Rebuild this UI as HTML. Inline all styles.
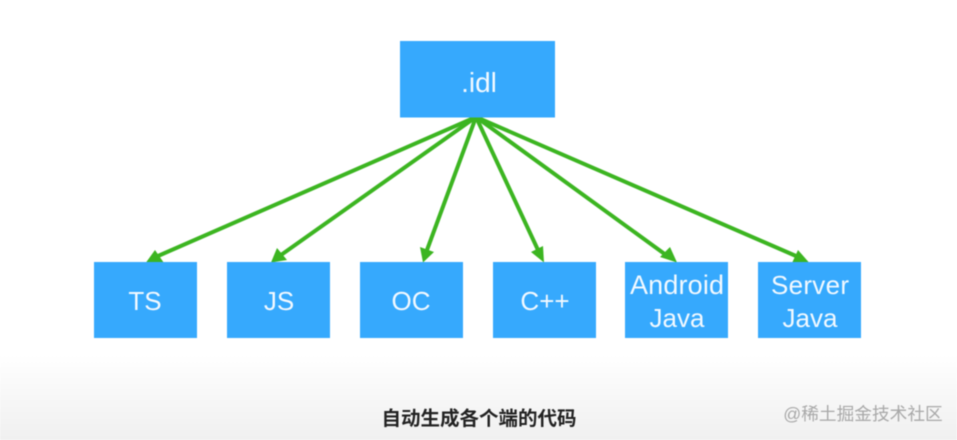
<!DOCTYPE html>
<html>
<head>
<meta charset="utf-8">
<style>
html,body{margin:0;padding:0;background:#fff}
svg{display:block;filter:blur(.45px)}
text{font-family:"Liberation Sans","Noto Sans CJK SC",sans-serif;text-anchor:middle}
.w{fill:#f2f9ff;font-size:26px}
</style>
</head>
<body>
<svg width="957" height="440" viewBox="0 0 957 440" xmlns="http://www.w3.org/2000/svg">
<defs>
<linearGradient id="g" x1="0" y1="0" x2="0" y2="1">
<stop offset="0" stop-color="#ffffff"/>
<stop offset=".45" stop-color="#f8f8f8"/>
<stop offset="1" stop-color="#f0f0f0"/>
</linearGradient>
</defs>
<rect width="957" height="440" fill="#fff"/>
<rect x="0" y="355" width="957" height="85" fill="url(#g)"/>

<g stroke="#3cb521" stroke-width="4" fill="none">
<line x1="476" y1="117" x2="158" y2="256"/>
<line x1="476" y1="117" x2="281" y2="255"/>
<line x1="476" y1="117" x2="427" y2="250"/>
<line x1="476" y1="117" x2="538" y2="250"/>
<line x1="476" y1="117" x2="666" y2="255"/>
<line x1="476" y1="117" x2="796" y2="256"/>
</g>
<g fill="#3cb521">
<polygon points="146,262.500 155,250 164,263"/>
<polygon points="271,262.500 277,248 287,260"/>
<polygon points="423,262.500 420,247 434,252"/>
<polygon points="544,262.500 531,252 543,246"/>
<polygon points="677,262.500 660,257 670,247"/>
<polygon points="809,262.500 792,263 798,250"/>
</g>

<g fill="#36a9fd">
<rect x="400" y="41" width="155" height="76.500"/>
<rect x="94" y="262" width="103" height="76"/>
<rect x="227" y="262" width="103" height="76"/>
<rect x="360" y="262" width="103" height="76"/>
<rect x="493" y="262" width="103" height="76"/>
<rect x="625" y="262" width="103" height="76"/>
<rect x="758" y="262" width="103" height="76"/>
</g>

<text class="w" x="479" y="92" style="font-size:28px">.idl</text>
<text class="w" x="145" y="310">TS</text>
<text class="w" x="279" y="310">JS</text>
<text class="w" x="411" y="310">OC</text>
<text class="w" x="545" y="310">C++</text>
<text class="w" x="677" y="294" style="font-size:27px" textLength="94" lengthAdjust="spacing">Android</text>
<text class="w" x="677" y="327">Java</text>
<text class="w" x="810" y="294" textLength="78" lengthAdjust="spacing">Server</text>
<text class="w" x="810" y="327">Java</text>

<text x="479" y="425" font-size="19.500" font-weight="700" fill="#222">自动生成各个端的代码</text>
<text x="863" y="420" font-size="17.700" fill="#a8a8a8">@稀土掘金技术社区</text>
</svg>
</body>
</html>
